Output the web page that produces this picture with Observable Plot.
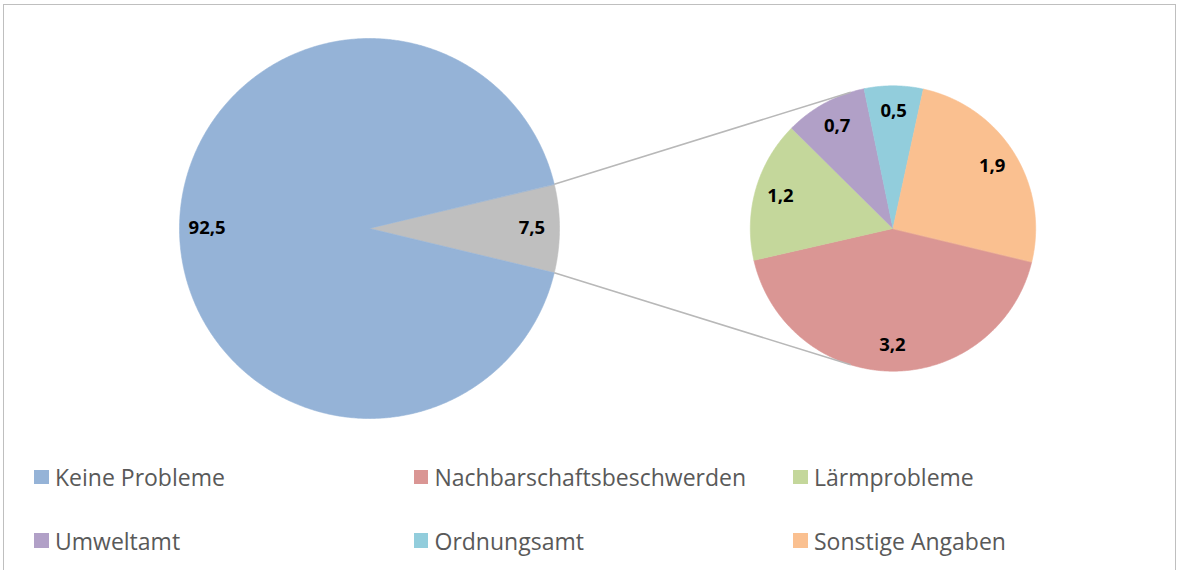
<!DOCTYPE html>
<html><head><meta charset="utf-8">
<script src="https://cdn.jsdelivr.net/npm/d3@7"></script>
<script src="https://cdn.jsdelivr.net/npm/@observablehq/plot@0.6"></script>
<style>
body{margin:0;background:#fff;font-family:"Open Sans",sans-serif;}
#wrap{position:relative;width:1178px;height:570px;overflow:hidden;}
#frame{position:absolute;left:3px;top:4px;width:1173px;height:700px;border:1.5px solid #BFBFBF;box-sizing:border-box;}
#chart{position:absolute;left:0;top:0;}
#legend{position:absolute;left:34px;top:462px;display:grid;grid-template-columns:379.5px 379.5px 379.5px;grid-auto-rows:30px;row-gap:33.5px;}
.item{display:flex;align-items:center;height:30px;font-size:23px;color:#595959;white-space:nowrap;}
.sw{width:14.5px;height:14.5px;margin-right:6.5px;flex:none;}
</style></head><body>
<div id="wrap"><div id="frame"></div><div id="chart"></div><div id="legend"></div></div>
<script>
// ---- data ----
const mainCategories = ["Probleme", "Keine Probleme"];
const mainValues = [7.5, 92.5];
const subCategories = ["Nachbarschaftsbeschwerden", "Lärmprobleme", "Umweltamt", "Ordnungsamt", "Sonstige Angaben"];
const subValues = [3.2, 1.2, 0.7, 0.5, 1.9];
const legendOrder = ["Keine Probleme", "Nachbarschaftsbeschwerden", "Lärmprobleme", "Umweltamt", "Ordnungsamt", "Sonstige Angaben"];
const categoryColors = ["#BFBFBF", "#95B3D7", "#DA9694", "#C4D79B", "#B1A0C7", "#92CDDC", "#FAC090"];
const allCategories = ["Probleme", "Keine Probleme", ...subCategories];

// ---- layout ----
const W = 1178, H = 450;
const R = 190, CX = 369, CY = 228;       // main pie in pixels (scale unit = main radius)
const subCenter = [(892.5 - CX) / R, 0];
const subR = 0.751;
const labelRMain = 0.855, labelRSub = 0.82;

const fmt = v => d3.format(".1f")(v).replace(".", ",");
const mainFrac = mainValues[0] / d3.sum(mainValues);
const mainStart = Math.PI / 2 - mainFrac * Math.PI;
const mainArcs = d3.pie().sort(null).startAngle(mainStart).endAngle(mainStart + 2 * Math.PI)(mainValues)
  .map((a, i) => ({...a, name: mainCategories[i], c: [0, 0], r: 1, lr: labelRMain}));
const subStart = Math.PI / 2 + mainFrac * Math.PI;
const subArcs = d3.pie().sort(null).startAngle(subStart).endAngle(subStart + 2 * Math.PI)(subValues)
  .map((a, i) => ({...a, name: subCategories[i], c: subCenter, r: subR, lr: labelRSub}));
const arcs = [...mainArcs, ...subArcs];

const pt = (c, r, a) => ({x: c[0] + r * Math.sin(a), y: c[1] + r * Math.cos(a)});
const polys = [];
for (const a of arcs) {
  polys.push({name: a.name, ...pt(a.c, 0, 0)});
  const n = Math.max(2, Math.ceil((a.endAngle - a.startAngle) / (0.4 * Math.PI / 180)));
  for (let k = 0; k <= n; k++) {
    polys.push({name: a.name, ...pt(a.c, a.r, a.startAngle + (a.endAngle - a.startAngle) * k / n)});
  }
}
const labels = arcs.map(a => ({name: a.name, text: fmt(a.value), ...pt(a.c, a.r * a.lr, (a.startAngle + a.endAngle) / 2)}));

// connectors: tangent lines from the edges of the grey slice to the secondary pie
function tangent(P, sign) {
  const dx = P.x - subCenter[0], dy = P.y - subCenter[1];
  const d = Math.hypot(dx, dy);
  const th = Math.atan2(dy, dx) + sign * Math.acos(subR / d);
  return {x: subCenter[0] + subR * Math.cos(th), y: subCenter[1] + subR * Math.sin(th)};
}
const gEdgeTop = pt([0, 0], 1, mainArcs[0].startAngle);
const gEdgeBot = pt([0, 0], 1, mainArcs[0].endAngle);
const tTop = tangent(gEdgeTop, -1), tBot = tangent(gEdgeBot, +1);
const connectors = [
  {x1: gEdgeTop.x, y1: gEdgeTop.y, x2: tTop.x, y2: tTop.y},
  {x1: gEdgeBot.x, y1: gEdgeBot.y, x2: tBot.x, y2: tBot.y}
];

const plot = Plot.plot({
  width: W, height: H, margin: 0,
  x: {domain: [-CX / R, (W - CX) / R], axis: null},
  y: {domain: [-(H - CY) / R, CY / R], axis: null},
  color: {domain: allCategories, range: categoryColors},
  style: {fontFamily: "Open Sans", background: "transparent"},
  marks: [
    Plot.line(polys, {x: "x", y: "y", z: "name", fill: "name", stroke: "name", strokeWidth: 0.6, curve: "linear-closed"}),
    Plot.link(connectors, {x1: "x1", y1: "y1", x2: "x2", y2: "y2", stroke: "#B8B8B8", strokeWidth: 1.6}),
    Plot.text(labels, {x: "x", y: "y", text: "text", fontSize: 18.5, fontWeight: "bold", fill: "#000"})
  ]
});
document.getElementById("chart").appendChild(plot);

const colorOf = Object.fromEntries(allCategories.map((c, i) => [c, categoryColors[i]]));
const legend = document.getElementById("legend");
for (const name of legendOrder) {
  const it = document.createElement("div");
  it.className = "item";
  const sw = document.createElement("span");
  sw.className = "sw";
  sw.style.background = colorOf[name];
  it.appendChild(sw);
  it.appendChild(document.createTextNode(name));
  legend.appendChild(it);
}
</script>
</body></html>
